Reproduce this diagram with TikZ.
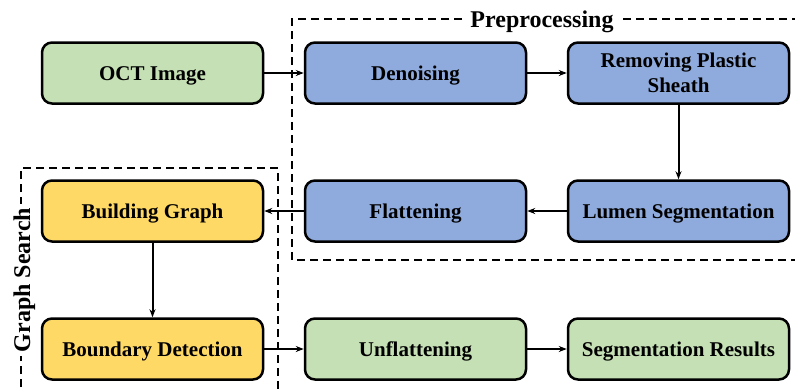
\documentclass[tikz,border=0pt]{standalone}
\usepackage{fontspec}
\setmainfont{Liberation Serif}
\usetikzlibrary{arrows.meta}
\definecolor{boxgreen}{HTML}{C5E0B4}
\definecolor{boxblue}{HTML}{8FAADC}
\definecolor{boxyellow}{HTML}{FFD966}
\begin{document}
\begin{tikzpicture}[x=1pt,y=-1pt,
  stepbox/.style={draw=black, line width=2.5pt, rounded corners=10pt,
    minimum width=221pt, minimum height=61pt, inner sep=0pt, align=center,
    text height=14pt, text depth=0pt,
    font=\fontsize{21}{25}\selectfont\bfseries},
  gbox/.style={stepbox, fill=boxgreen},
  bbox/.style={stepbox, fill=boxblue},
  ybox/.style={stepbox, fill=boxyellow},
  conn/.style={line width=2pt, -{Stealth[length=8pt,width=6pt]}},
  frame/.style={line width=1.8pt, dash pattern=on 8pt off 5pt},
  grouplabel/.style={font=\fontsize{24}{28}\selectfont\bfseries, fill=white,
    text height=16pt, text depth=0pt, inner sep=4pt}
]
\useasboundingbox (0,0) rectangle (795,389);
% frames
\begin{scope}
\clip (0,0) rectangle (795,389);
\draw[frame] (800,19) -- (292,19) -- (292,260) -- (800,260);
\draw[frame] (21,400) -- (21,168) -- (278,168) -- (278,400);
\end{scope}
\node[grouplabel] (pre) at (542,19) {Preprocessing};
\node[grouplabel, rotate=90] (gs) at (22,280) {Graph Search};
% nodes
\node[gbox] (oct) at (152.5,73) {OCT Image};
\node[bbox] (den) at (415.5,73) {Denoising};
\node[bbox, text height=39pt] (rem) at (678.5,73) {Removing Plastic\\Sheath};
\node[ybox] (bg) at (152.5,211) {Building Graph};
\node[bbox] (fla) at (415.5,211) {Flattening};
\node[bbox] (lum) at (678.5,211) {Lumen Segmentation};
\node[ybox] (bd) at (152.5,349) {Boundary Detection};
\node[gbox] (unf) at (415.5,349) {Unflattening};
\node[gbox] (res) at (678.5,349) {Segmentation Results};
% connectors
\draw[conn] (oct) -- (den);
\draw[conn] (den) -- (rem);
\draw[conn] (rem) -- (lum);
\draw[conn] (lum) -- (fla);
\draw[conn] (fla) -- (bg);
\draw[conn] (bg) -- (bd);
\draw[conn] (bd) -- (unf);
\draw[conn] (unf) -- (res);
\end{tikzpicture}
\end{document}
